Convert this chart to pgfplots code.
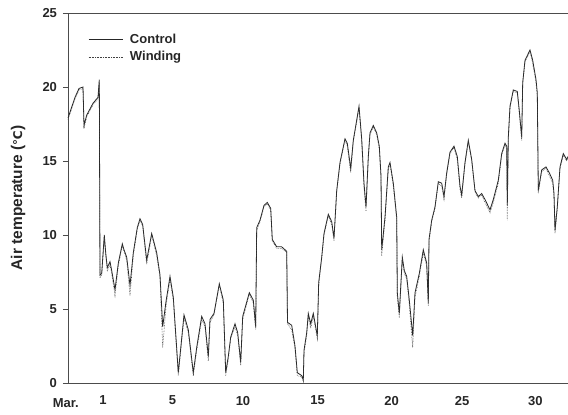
\documentclass[border=0pt]{standalone}
\usepackage{fontspec}
\setmainfont{Liberation Sans}
\newfontfamily\dejavu{DejaVu Sans}
\usepackage{pgfplots}
\pgfplotsset{compat=1.18}
\usepackage{pgfplotstable}
\pgfplotstableread{
x y
0 17.9
3 18.5
7 19.3
11 19.9
15 20.0
16 17.4
18.7 18.1
25 18.9
30 19.3
31.3 20.5
32 7.3
33.7 7.4
36.3 10.0
37.7 8.8
39.3 7.8
42 8.2
43.7 7.6
47 6.3
50.3 8.1
54.3 9.4
56 9.0
58.7 8.5
62 6.6
65.3 8.8
69.3 10.5
72 11.1
74.7 10.7
78.7 8.3
83.7 10.1
88.7 8.8
92 7.3
94.7 3.8
98 5.5
102 7.2
105.3 5.8
110.3 0.7
116 4.6
120.3 3.6
125.3 0.7
128.7 2.4
133.7 4.5
137 4.0
140.3 1.8
142 4.3
146 4.7
151.3 6.7
155.3 5.6
157.7 0.7
160.3 1.8
162.7 3.1
167 4.0
169.7 3.4
172.7 1.4
174.7 4.5
181.3 6.1
185.3 5.6
187.7 3.8
188.7 10.5
192 11.0
196 12.0
199.3 12.2
202.7 11.8
204.3 9.7
208.7 9.2
213.7 9.2
218.7 8.9
219.5 4.1
223.7 3.9
227 2.5
229.3 0.7
233.7 0.5
235.3 0.2
236 2.2
238.7 3.4
240.3 4.7
242.7 4.0
245.3 4.7
249.3 3.2
250.7 6.8
253.7 8.5
256 10.1
260.3 11.4
263.7 10.9
266 9.8
268.7 13.0
272 14.9
277 16.5
279.3 16.2
282.7 14.5
285.3 16.4
289.3 18.0
291 18.7
293.7 16.5
296 13.5
298 11.9
300.3 15.3
302 16.9
305.3 17.4
308.7 16.9
311.3 16.0
313 14.0
313.7 9.0
317 11.2
320.3 14.6
322 14.9
325.3 13.5
328.7 11.2
329.3 6.1
331.3 4.7
334.3 8.5
336.3 7.6
338.7 7.2
341.3 5.6
344.7 3.2
347 6.1
351.3 7.4
355.3 9.0
358.7 8.1
360.3 5.4
361 9.7
363.7 11.0
367 11.9
370.3 13.6
373.7 13.5
376 12.6
378.7 14.2
382 15.6
386 16.0
389.3 15.3
392 13.3
393.7 12.7
397 14.9
400.3 16.4
403.7 15.1
407 13.0
410.3 12.6
413.7 12.8
417 12.4
422 11.7
425.3 12.4
430.3 13.7
433.7 15.5
437 16.2
438.7 16.0
439.3 12.0
440.3 16.6
442 18.7
445.3 19.8
449.3 19.7
451.3 18.4
453.7 16.6
454.7 20.3
457 21.8
462 22.5
464.7 21.8
468 20.5
469.3 19.6
470.3 13.0
473.7 14.4
478 14.6
481.3 14.2
484.7 13.7
486 12.8
487 10.3
489.3 11.9
492 14.6
495.3 15.5
498.7 15.1
500 15.3
}\control
\pgfplotstableread{
x y
0 17.8
3 18.4
7 19.2
11 19.8
15 19.9
16 17.2
18.7 18.0
25 18.8
30 19.2
31.3 20.3
32 7.1
33.7 7.3
36.3 9.8
37.7 8.6
39.3 7.6
42 8.0
43.7 7.4
47 5.9
50.3 7.9
54.3 9.3
56 8.9
58.7 8.3
62 5.9
65.3 8.6
69.3 10.4
72 11.0
74.7 10.6
78.7 8.0
83.7 10.0
88.7 8.6
92 7.1
94.7 2.4
98 5.2
102 7.0
105.3 5.6
110.3 0.5
116 4.4
120.3 3.4
125.3 0.5
128.7 2.2
133.7 4.3
137 3.8
140.3 1.5
142 4.1
146 4.6
151.3 6.6
155.3 5.4
157.7 0.5
160.3 1.6
162.7 3.0
167 3.8
169.7 3.2
172.7 1.2
174.7 4.3
181.3 6.0
185.3 5.4
187.7 3.6
188.7 10.3
192 10.9
196 11.9
199.3 12.1
202.7 11.7
204.3 9.6
208.7 9.1
213.7 9.1
218.7 8.8
219.5 4.0
223.7 3.6
227 2.3
229.3 0.5
233.7 0.4
235.3 0.1
236 2.0
238.7 3.2
240.3 4.5
242.7 3.7
245.3 4.5
249.3 3.0
250.7 6.6
253.7 8.4
256 10.0
260.3 11.3
263.7 10.7
266 9.6
268.7 12.9
272 14.8
277 16.4
279.3 16.0
282.7 14.2
285.3 16.3
289.3 17.9
291 18.6
293.7 16.3
296 13.2
298 11.6
300.3 15.1
302 16.8
305.3 17.3
308.7 16.8
311.3 15.8
313 13.8
313.7 8.6
317 11.0
320.3 14.4
322 14.8
325.3 13.3
328.7 11.0
329.3 5.8
331.3 4.4
334.3 8.3
336.3 7.4
338.7 7.0
341.3 5.3
344.7 2.4
347 5.8
351.3 7.2
355.3 8.8
358.7 7.9
360.3 5.2
361 9.5
363.7 10.9
367 11.8
370.3 13.5
373.7 13.3
376 12.4
378.7 14.1
382 15.5
386 15.9
389.3 15.1
392 13.1
393.7 12.5
397 14.8
400.3 16.3
403.7 15.0
407 12.9
410.3 12.5
413.7 12.7
417 12.2
422 11.5
425.3 12.2
430.3 13.5
433.7 15.4
437 16.1
438.7 15.8
439.3 11.0
440.3 16.4
442 18.6
445.3 19.7
449.3 19.6
451.3 18.2
453.7 16.4
454.7 20.2
457 21.7
462 22.4
464.7 21.6
468 20.3
469.3 19.4
470.3 12.8
473.7 14.3
478 14.5
481.3 14.0
484.7 13.5
486 12.6
487 10.1
489.3 11.8
492 14.5
495.3 15.4
498.7 15.0
500 15.2
}\winding
\begin{document}
\begin{tikzpicture}
\useasboundingbox (-68pt,-32pt) rectangle (500pt,383pt);
\begin{axis}[
  scale only axis,
  width=500pt, height=370pt,
  xmin=0, xmax=500, ymin=0, ymax=25,
  axis x line=box, axis y line=left,
  axis line style={black!70, line width=0.8pt, -},
  clip=false,
  /pgf/number format/assume math mode=true,
  tick label style={font=\bfseries\fontsize{13}{15}\selectfont, black!85},
  tick style={black!70, line width=0.8pt},
  tick align=outside,
  ytick={0,5,10,15,20,25},
  yticklabel style={xshift=-2.5pt},
  major tick length=5pt,
  xtick={35,104.6,175,249.7,323.7,394,467.4},
  xticklabels={1,5,10,15,20,25,30},
  x tick style={draw=none},
  xtick pos=bottom,
  xticklabel style={yshift=-4.5pt},
  extra x ticks={93.4,185.8,278.6,371.7,464.5},
  extra x tick labels={},
  extra x tick style={tick style={black!70, line width=0.8pt}, major tick length=4pt},
  ylabel={Air temperature ({\dejavu\bfseries\fontsize{12}{14}\selectfont ℃})},
  ylabel style={font=\bfseries\fontsize{15.5}{17}\selectfont, black!85, at={(axis description cs:-0.1,0.5)}, anchor=center},
  legend style={draw=none, fill=none, at={(axis description cs:0.04,0.948)}, anchor=north west,
    font=\bfseries\fontsize{13}{15}\selectfont, text=black!85, row sep=2pt, column sep=5pt, inner sep=0pt},
  legend cell align=left,
  legend image code/.code={\draw[#1] (0pt,0pt) -- (34pt,0pt);},
]
\addplot[black!85, line width=0.8pt] table[x=x,y=y] {\control};
\addlegendentry{Control}
\addplot[black!75, line width=0.6pt, densely dotted] table[x=x,y=y] {\winding};
\addlegendentry{Winding}
\end{axis}
\node[font=\bfseries\fontsize{13}{15}\selectfont, text=black!85, anchor=north] at (-2.2pt,-12.5pt) {Mar.};
\end{tikzpicture}
\end{document}
